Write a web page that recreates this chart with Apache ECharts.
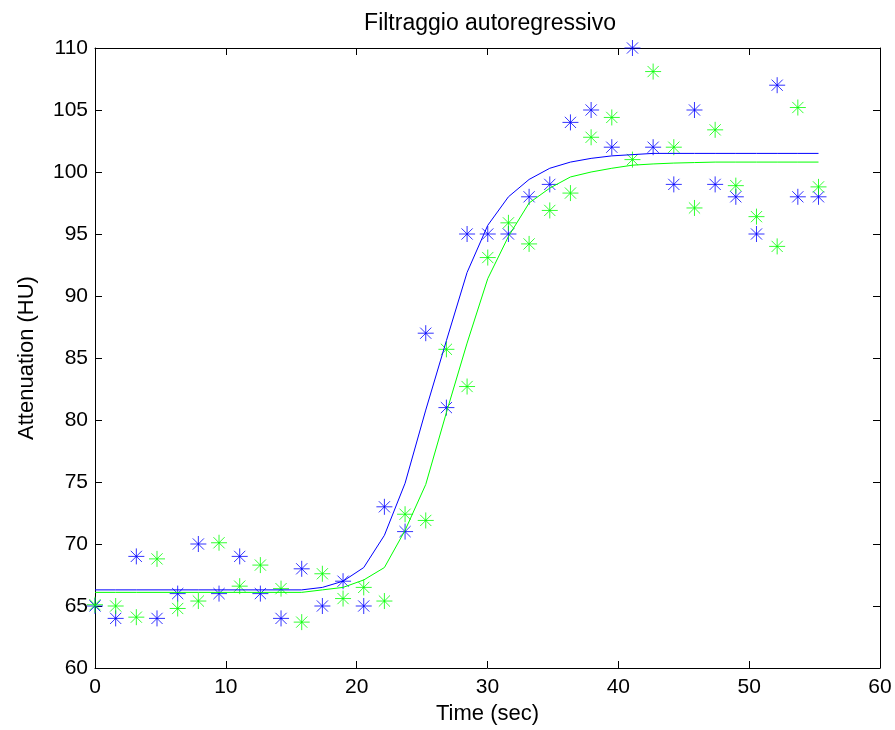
<!DOCTYPE html>
<html>
<head>
<meta charset="utf-8">
<script src="https://cdn.jsdelivr.net/npm/echarts@6/dist/echarts.min.js"></script>
<style>
html,body{margin:0;padding:0;background:#fff;}
#chart{width:895px;height:730px;}
</style>
</head>
<body>
<div id="chart"></div>
<script>
// Time samples (sec)
var times = [0, 1.58, 3.16, 4.74, 6.32, 7.9, 9.48, 11.06, 12.64, 14.22, 15.8, 17.38,
  18.96, 20.54, 22.12, 23.7, 25.28, 26.86, 28.44, 30.02, 31.6, 33.18, 34.76, 36.34,
  37.92, 39.5, 41.08, 42.66, 44.24, 45.82, 47.4, 48.98, 50.56, 52.14, 53.72, 55.3];

// Measured attenuation (stars)
var blueMeasured = [65, 64, 69, 64, 66, 70, 66, 69, 66, 64, 68, 65,
  67, 65, 73, 71, 87, 81, 95, 95, 95, 98, 99, 104,
  105, 102, 110, 102, 99, 105, 99, 98, 95, 107, 98, 98];
var greenMeasured = [65.1, 65, 64.1, 68.8, 64.8, 65.4, 70.1, 66.6, 68.3, 66.4, 63.7, 67.6,
  65.6, 66.5, 65.4, 72.4, 71.9, 85.7, 82.7, 93.1, 95.9, 94.2, 96.9, 98.3,
  102.8, 104.4, 101.0, 108.1, 102.0, 97.1, 103.4, 98.9, 96.4, 94.0, 105.2, 98.8];

// Autoregressive filtered curves (lines)
var blueFiltered = [66.3, 66.3, 66.3, 66.3, 66.3, 66.3, 66.3, 66.3, 66.3, 66.3, 66.3, 66.5,
  67.0, 68.1, 70.7, 74.9, 80.8, 86.4, 91.9, 95.7, 98.0, 99.4, 100.3, 100.8,
  101.1, 101.3, 101.4, 101.5, 101.5, 101.5, 101.5, 101.5, 101.5, 101.5, 101.5, 101.5];
var greenFiltered = [66.1, 66.1, 66.1, 66.1, 66.1, 66.1, 66.1, 66.1, 66.1, 66.1, 66.1, 66.3,
  66.5, 67.1, 68.1, 71.1, 74.8, 80.6, 86.2, 91.4, 94.8, 97.5, 98.7, 99.6,
  100.0, 100.3, 100.55, 100.65, 100.72, 100.76, 100.8, 100.8, 100.8, 100.8, 100.8, 100.8];

var xTicks = {min: 0, max: 60, interval: 10};
var yTicks = {min: 60, max: 110, interval: 5};

function pairs(xs, ys) {
  return xs.map(function (x, i) { return [x, ys[i]]; });
}

var FONT = 'Liberation Sans, Arial, sans-serif';
var STAR = 'path://M0,-10L0,10M-10,0L10,0M-7,-7L7,7M-7,7L7,-7';

function starSeries(name, data, color) {
  return {
    name: name, type: 'scatter', data: data,
    symbol: STAR, symbolSize: 16,
    itemStyle: {color: 'rgba(0,0,0,0)', borderColor: color, borderWidth: 1},
    emphasis: {disabled: true}, silent: true, z: 2
  };
}
function lineSeries(name, data, color) {
  return {
    name: name, type: 'line', data: data, showSymbol: false, symbol: 'none',
    lineStyle: {color: color, width: 1}, emphasis: {disabled: true}, silent: true, z: 3
  };
}

var axisCommon = {
  axisLine: {show: true, onZero: false, lineStyle: {color: '#000', width: 1}},
  axisTick: {show: true, inside: true, length: 7, lineStyle: {color: '#000'}},
  splitLine: {show: false}
};

var chart = echarts.init(document.getElementById('chart'), null, {renderer: 'canvas'});
chart.setOption({
  animation: false,
  backgroundColor: '#fff',
  textStyle: {fontFamily: FONT},
  title: {
    text: 'Filtraggio autoregressivo',
    left: 485, top: 7, textAlign: 'center',
    textStyle: {fontFamily: FONT, fontSize: 23, fontWeight: 'normal', color: '#000'}
  },
  grid: {left: 95, right: 15, top: 48, bottom: 62, containLabel: false},
  xAxis: [
    Object.assign({}, axisCommon, {
      type: 'value', position: 'bottom', min: xTicks.min, max: xTicks.max, interval: xTicks.interval,
      axisLabel: {color: '#000', fontSize: 21, margin: 9, fontFamily: FONT},
      name: 'Time (sec)', nameLocation: 'middle', nameGap: 33,
      nameTextStyle: {color: '#000', fontSize: 22, fontFamily: FONT}
    }),
    Object.assign({}, axisCommon, {
      type: 'value', position: 'top', min: xTicks.min, max: xTicks.max, interval: xTicks.interval,
      axisLabel: {show: false}
    })
  ],
  yAxis: [
    Object.assign({}, axisCommon, {
      type: 'value', position: 'left', min: yTicks.min, max: yTicks.max, interval: yTicks.interval,
      axisLabel: {color: '#000', fontSize: 21, margin: 7, fontFamily: FONT},
      name: 'Attenuation (HU)', nameLocation: 'middle', nameGap: 57, nameRotate: 90,
      nameTextStyle: {color: '#000', fontSize: 22, fontFamily: FONT}
    }),
    Object.assign({}, axisCommon, {
      type: 'value', position: 'right', min: yTicks.min, max: yTicks.max, interval: yTicks.interval,
      axisLabel: {show: false}
    })
  ],
  series: [
    starSeries('blue stars', pairs(times, blueMeasured), '#0000ff'),
    starSeries('green stars', pairs(times, greenMeasured), '#00ff00'),
    lineSeries('blue filtered', pairs(times, blueFiltered), '#0000ff'),
    lineSeries('green filtered', pairs(times, greenFiltered), '#00ff00')
  ]
});
</script>
</body>
</html>
